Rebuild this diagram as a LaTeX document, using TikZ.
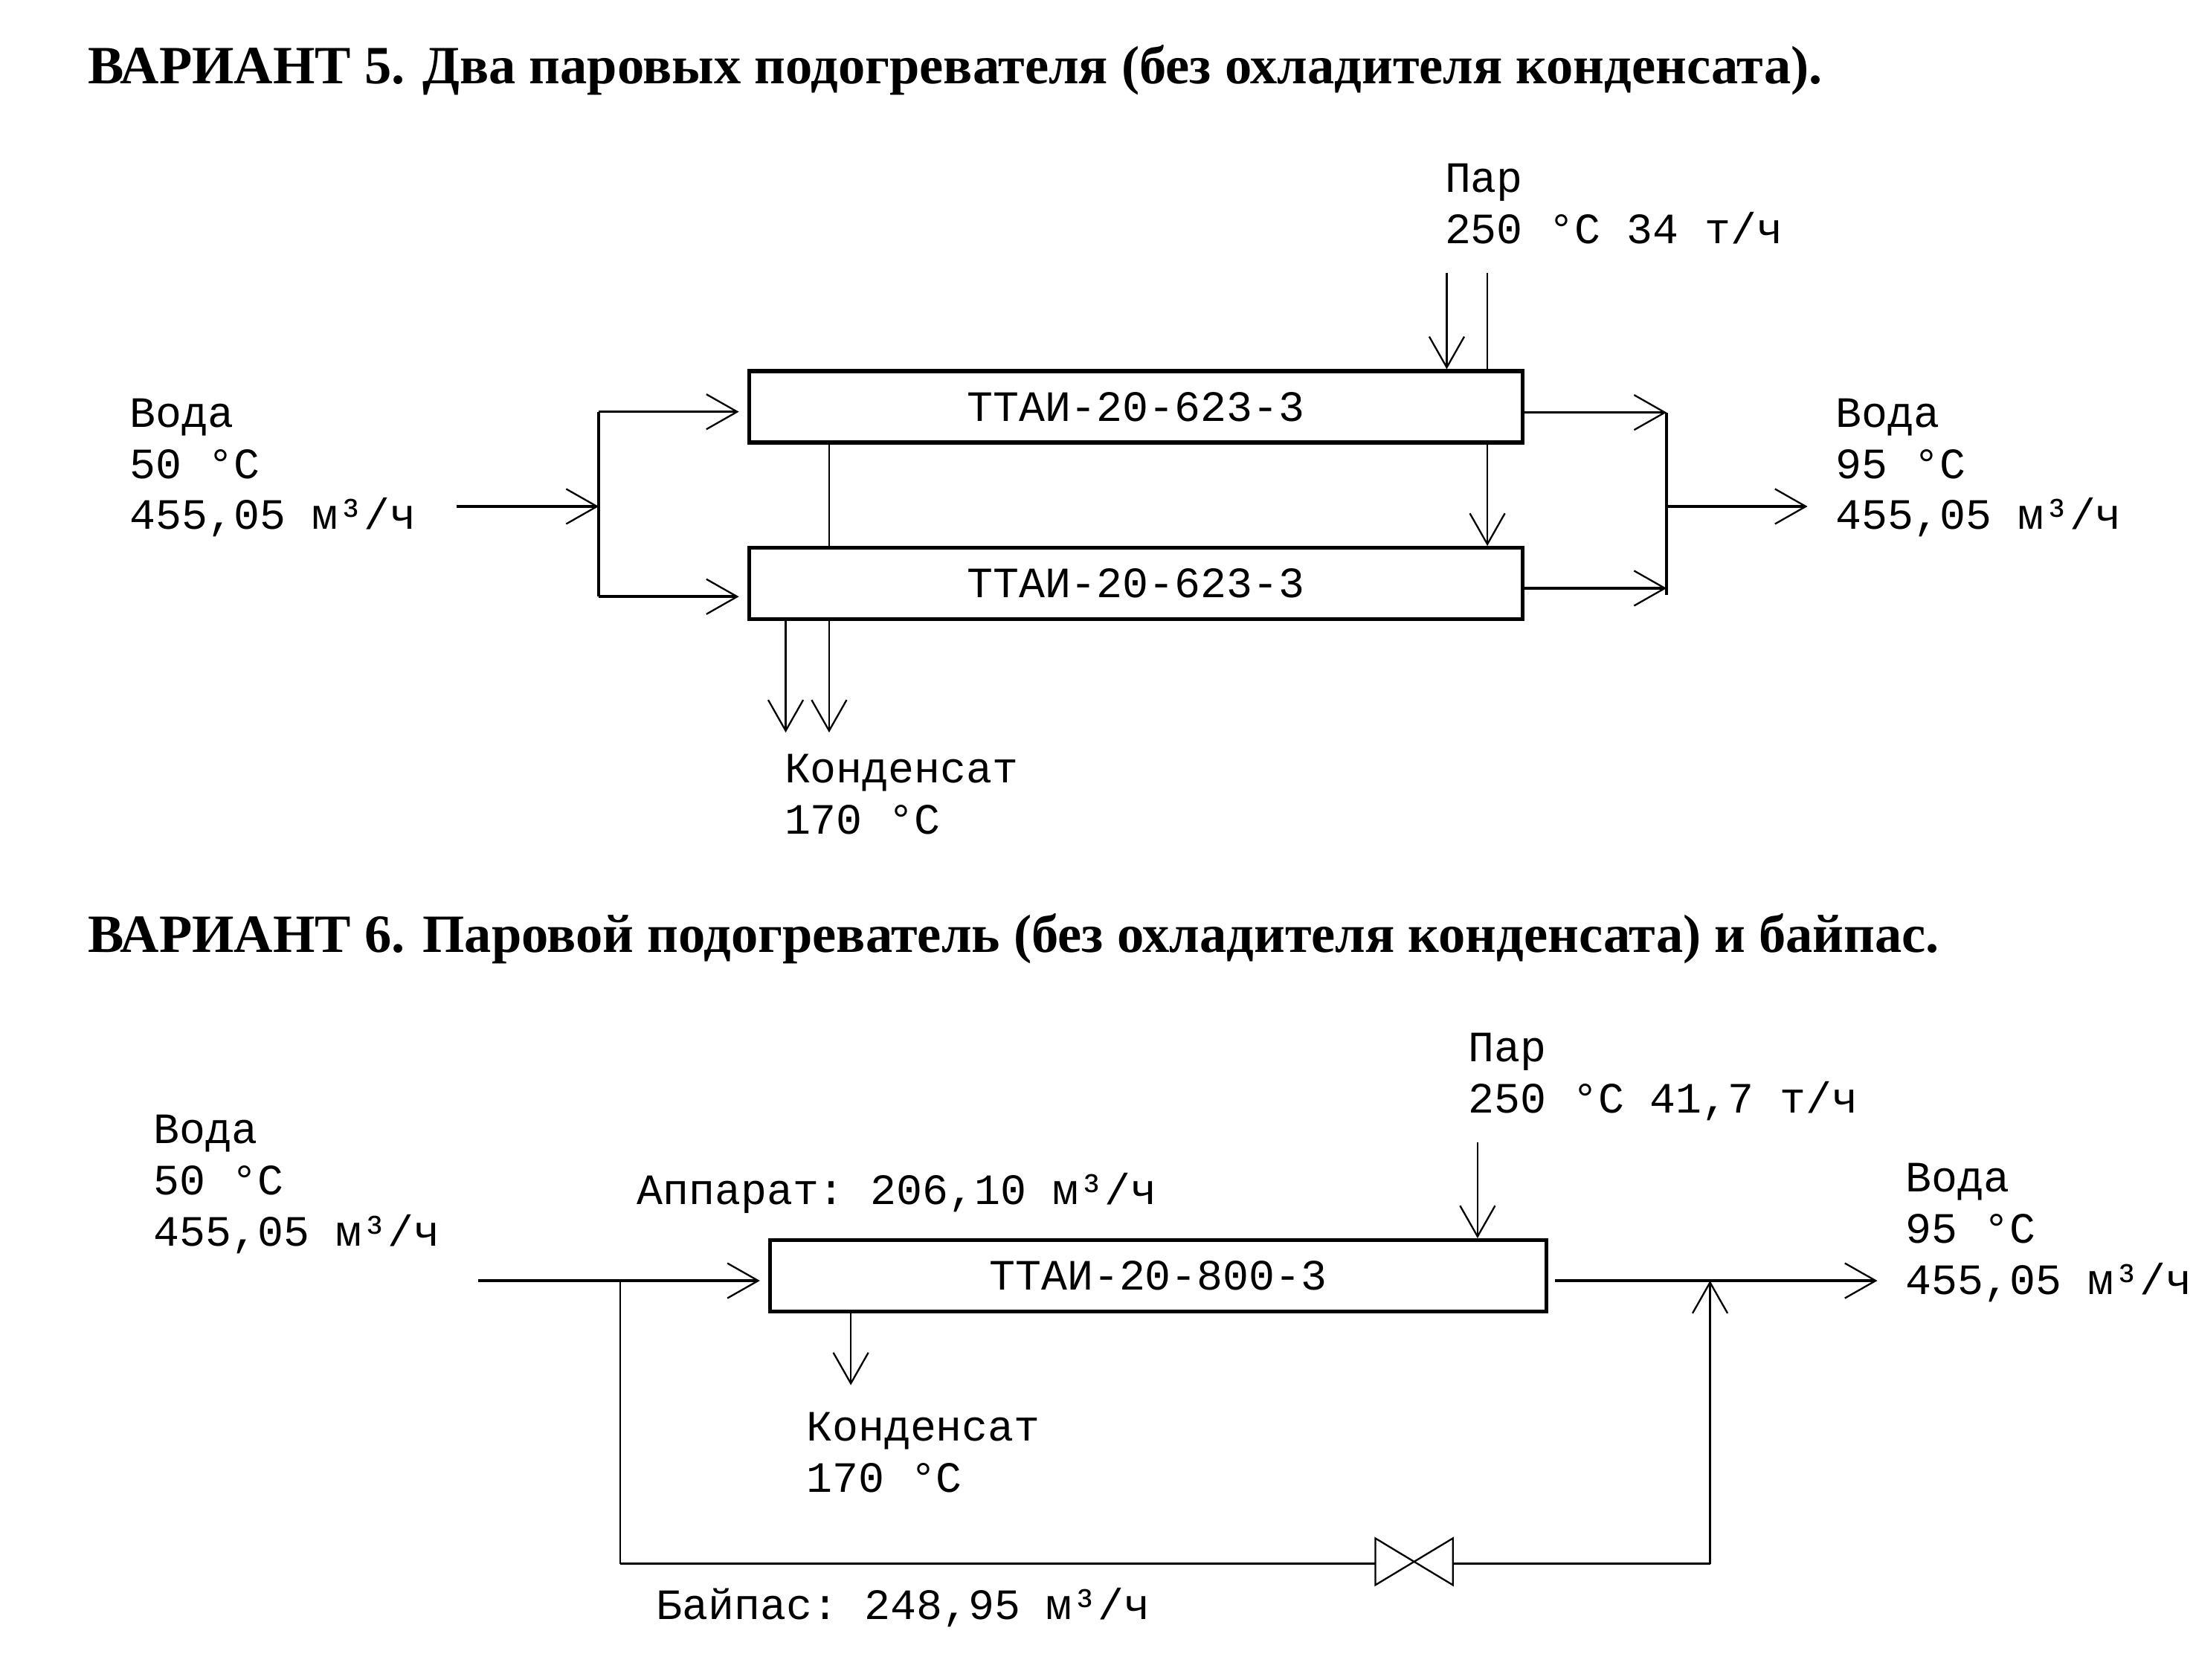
\documentclass[tikz,border=0pt]{standalone}
\usepackage{fontspec}
\setmainfont{Liberation Serif}
\setmonofont{Liberation Mono}
\usetikzlibrary{arrows.meta}
\tikzset{
  titulo/.style={font=\bfseries\fontsize{10.95}{13}\selectfont, anchor=base west, inner sep=0pt},
  lbl/.style={font=\ttfamily\fontsize{8.8}{10.4}\selectfont, align=left, anchor=base west, inner sep=0pt},
  aparato/.style={draw, line width=0.8pt, minimum width=5.52cm, minimum height=0.51cm, inner sep=0pt, font=\ttfamily\fontsize{8.8}{10.4}\selectfont},
  tubo/.style={line width=0.55pt},
  fino/.style={line width=0.35pt},
  flecha/.style={-{Straight Barb[length=2.2mm,width=2.5mm,line width=0.35pt]}},
  valvula/.style={minimum width=0.54cm, minimum height=0.32cm, inner sep=0pt}
}
\begin{document}
\begin{tikzpicture}
    \useasboundingbox (0,0) rectangle (15.68,-11.99);

    %Titulos
    \node[titulo] (tit5) at (0.62,-0.595) {ВАРИАНТ 5. Два паровых подогревателя (без охладителя конденсата).};
    \node[titulo] (tit6) at (0.62,-6.80) {ВАРИАНТ 6. Паровой подогреватель (без охладителя конденсата) и байпас.};

    %Variante 5
    \node[aparato] (top1) at (8.11,-2.905) {ТТАИ-20-623-3};
    \node[aparato] (bot1) at (8.11,-4.167) {ТТАИ-20-623-3};

    %la base es la ultima linea
    \node[lbl] (agua1) at (0.92,-3.78) {Вода\\50 °C\\455,05 м³/ч};
    \node[lbl] (salida1) at (13.10,-3.78) {Вода\\95 °C\\455,05 м³/ч};
    \node[lbl] (vapor1) at (10.31,-1.74) {Пар\\250 °C 34 т/ч};
    \node[lbl] (cond1) at (5.595,-5.955) {Конденсат\\170 °C};

    \coordinate (inS1) at (3.26,-3.616);
    \coordinate (jL1) at (4.275,-3.616);
    \coordinate (jLt) at (4.275,-2.94);
    \coordinate (jLb) at (4.275,-4.26);
    \coordinate (jRt) at (11.90,-2.945);
    \coordinate (jRb) at (11.90,-4.20);
    \coordinate (jRe) at (11.90,-4.25);
    \coordinate (jR1) at (11.90,-3.616);
    \coordinate (outE1) at (12.906,-3.616);
    \coordinate (s1a) at (10.33,-1.95);
    \coordinate (s1b) at (10.62,-1.95);
    \coordinate (c1a) at (5.61,-5.23);
    \coordinate (c1b) at (5.92,-5.23);

    %Agua de entrada
    \draw[tubo,flecha] (inS1) -- (jL1);
    \draw[tubo] (jLt) -- (jLb);
    \draw[tubo,flecha,shorten >=0.6mm] (jLt) -- (top1.west |- jLt);
    \draw[tubo,flecha,shorten >=0.6mm] (jLb) -- (bot1.west |- jLb);

    %Agua de salida
    \draw[tubo,flecha] (top1.east |- jRt) -- (jRt);
    \draw[tubo,flecha] (bot1.east |- jRb) -- (jRb);
    \draw[tubo] (jRt) -- (jRe);
    \draw[tubo,flecha] (jR1) -- (outE1);

    %Vapor y condensado
    \draw[fino,flecha] (s1a) -- (s1a |- top1.north);
    \draw[fino] (s1b) -- (s1b |- top1.north);
    \draw[fino,flecha] (top1.south -| s1b) -- (bot1.north -| s1b);
    \draw[fino] (top1.south -| c1b) -- (bot1.north -| c1b);
    \draw[fino,flecha] (bot1.south -| c1a) -- (c1a);
    \draw[fino,flecha] (bot1.south -| c1b) -- (c1b);

    %Variante 6
    \node[aparato, minimum width=5.54cm] (box2) at (8.27,-9.11) {ТТАИ-20-800-3};

    \node[lbl] (agua2) at (1.09,-8.896) {Вода\\50 °C\\455,05 м³/ч};
    \node[lbl] (aparato2) at (4.54,-8.60) {Аппарат: 206,10 м³/ч};
    \node[lbl] (vapor2) at (10.476,-7.945) {Пар\\250 °C 41,7 т/ч};
    \node[lbl] (cond2) at (5.75,-10.655) {Конденсат\\170 °C};
    \node[lbl] (salida2) at (13.60,-9.24) {Вода\\95 °C\\455,05 м³/ч};
    \node[lbl] (bypass2) at (4.68,-11.56) {Байпас: 248,95 м³/ч};
    \node[valvula] (v2) at (10.097,-11.15) {};

    \coordinate (inS2) at (3.414,-9.144);
    \coordinate (jB1) at (4.43,-9.144);
    \coordinate (jB2) at (4.43,-11.164);
    \coordinate (jB3) at (12.21,-11.164);
    \coordinate (jB4) at (12.21,-9.144);
    \coordinate (outE2) at (13.405,-9.144);
    \coordinate (s2) at (10.55,-8.155);
    \coordinate (c2) at (6.075,-9.89);

    %Linea principal
    \draw[tubo,flecha,shorten >=0.6mm] (inS2) -- (box2.west |- inS2);
    \draw[tubo,flecha,shorten <=0.5mm] (box2.east |- outE2) -- (outE2);

    %Bypass con valvula
    \draw[fino] (jB1) -- (jB2);
    \draw[tubo] (jB2) -- (v2.west |- jB2);
    \draw[tubo] (v2.east |- jB3) -- (jB3);
    \draw[fino] (v2.north west) -- (v2.south east) -- (v2.north east) -- (v2.south west) -- cycle;
    \draw[fino,flecha] (jB3) -- (jB4);

    %Vapor y condensado
    \draw[fino,flecha] (s2) -- (s2 |- box2.north);
    \draw[fino,flecha] (box2.south -| c2) -- (c2);
\end{tikzpicture}
\end{document}
